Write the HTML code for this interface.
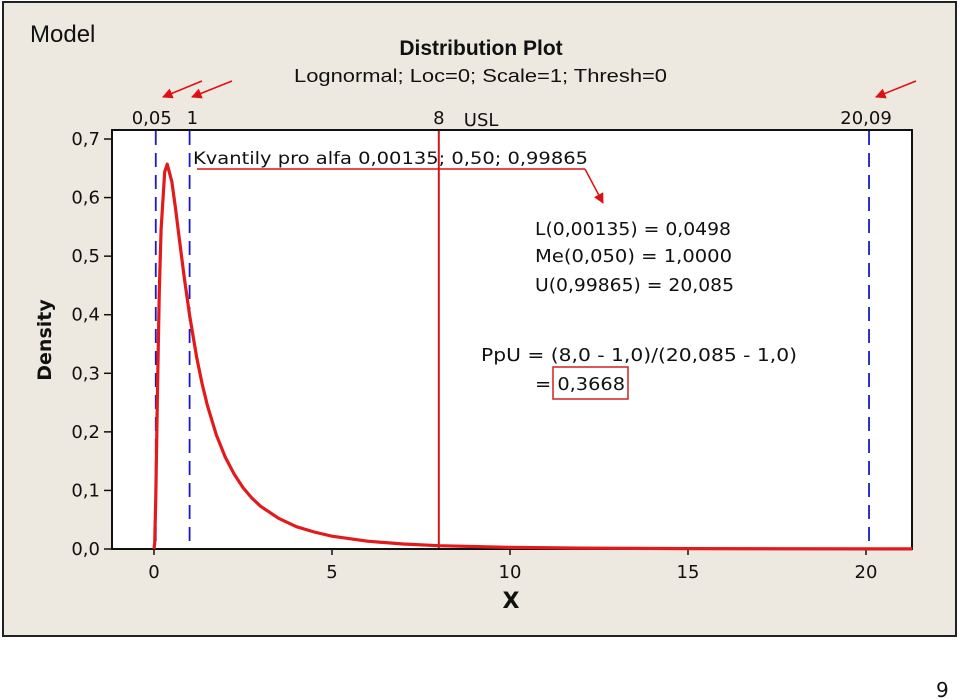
<!DOCTYPE html>
<html><head><meta charset="utf-8"><style>
html,body{margin:0;padding:0;background:#fff;}
svg{display:block;font-family:"DejaVu Sans","Liberation Sans",sans-serif;}
</style></head><body>
<svg id="chart" width="960" height="699" viewBox="0 0 960 699" xmlns="http://www.w3.org/2000/svg">
<defs><marker id="ah" viewBox="0 0 10 10" refX="9" refY="5" markerWidth="7" markerHeight="7" orient="auto"><path d="M0,0 L10,5 L0,10 z" fill="#e01010"/></marker></defs>
<rect x="3" y="2" width="953" height="634" fill="#ede9e0" stroke="#222" stroke-width="2"/>
<rect x="112" y="130" width="800" height="419" fill="#fff" stroke="#111" stroke-width="2"/>
<text x="30" y="42" font-size="24" fill="#111" font-family="Liberation Sans, sans-serif">Model</text>
<text x="481" y="55" font-size="21" font-weight="bold" text-anchor="middle" fill="#111" font-family="Liberation Sans, sans-serif">Distribution Plot</text>
<text x="294" y="82" font-size="18" fill="#111" font-family="Liberation Sans, sans-serif" textLength="373" lengthAdjust="spacingAndGlyphs">Lognormal; Loc=0; Scale=1; Thresh=0</text>
<text transform="translate(51,340) rotate(-90)" font-size="19" font-weight="bold" text-anchor="middle" fill="#111">Density</text>
<text x="511" y="608" font-size="22" font-weight="bold" text-anchor="middle" fill="#111">X</text>
<g id="axes"></g>
<g id="refs"></g>
<g id="series"></g>
<text x="193" y="164" font-size="17" fill="#111" textLength="395" lengthAdjust="spacingAndGlyphs">Kvantily pro alfa 0,00135;  0,50;  0,99865</text>
<line x1="197" y1="169" x2="585" y2="169" stroke="#e01010" stroke-width="1.5"/>
<line x1="585" y1="169" x2="603" y2="203" stroke="#e01010" stroke-width="1.5" marker-end="url(#ah)"/>
<text x="535" y="235" font-size="18" fill="#111" textLength="196" lengthAdjust="spacingAndGlyphs">L(0,00135) = 0,0498</text>
<text x="535" y="262" font-size="18" fill="#111" textLength="197" lengthAdjust="spacingAndGlyphs">Me(0,050)  = 1,0000</text>
<text x="535" y="291" font-size="18" fill="#111" textLength="199" lengthAdjust="spacingAndGlyphs">U(0,99865) = 20,085</text>
<text x="481" y="361" font-size="18" fill="#111" textLength="316" lengthAdjust="spacingAndGlyphs">PpU  =  (8,0 - 1,0)/(20,085 - 1,0)</text>
<text x="535" y="390" font-size="18" fill="#111" textLength="90" lengthAdjust="spacingAndGlyphs">=  0,3668</text>
<rect x="553" y="367" width="75" height="32" fill="none" stroke="#d02020" stroke-width="1.5"/>
<line x1="202" y1="81" x2="163" y2="97" stroke="#e01010" stroke-width="1.5" marker-end="url(#ah)"/>
<line x1="232" y1="81" x2="192" y2="97" stroke="#e01010" stroke-width="1.5" marker-end="url(#ah)"/>
<line x1="916" y1="81" x2="876" y2="97" stroke="#e01010" stroke-width="1.5" marker-end="url(#ah)"/>
<text x="936" y="697" font-size="20" fill="#111">9</text>
</svg>
<script>
const xTicks = [0, 5, 10, 15, 20];
const yTicks = [0, 0.1, 0.2, 0.3, 0.4, 0.5, 0.6, 0.7];
const curveX = [0, 0.02, 0.05, 0.1, 0.15, 0.2, 0.3, 0.37, 0.5, 0.6, 0.7, 0.85, 1, 1.2, 1.35, 1.5, 1.75, 2, 2.25, 2.5, 2.75, 3, 3.5, 4, 4.5, 5, 6, 7, 8, 10, 12, 15, 20, 21.3];
const curveY = [0, 0.0095, 0.0898, 0.2816, 0.44, 0.546, 0.644, 0.657, 0.6276, 0.583, 0.535, 0.463, 0.399, 0.327, 0.282, 0.245, 0.195, 0.157, 0.128, 0.1049, 0.0869, 0.0727, 0.0524, 0.0381, 0.0290, 0.0219, 0.0134, 0.0086, 0.0057, 0.0028, 0.0015, 0.0007, 0.0002, 0.0002];
const refValues = [0.0498, 1, 20.085];
const refLabels = ["0,05", "1", "20,09"];
const uslValue = 8;

const NS = "http://www.w3.org/2000/svg";
const X0 = 154, XS = 35.6, Y0 = 549, YS = 585.7;
const sx = v => X0 + v * XS;
const sy = v => Y0 - v * YS;
function mk(tag, attrs, parent, txt) {
  const e = document.createElementNS(NS, tag);
  for (const k in attrs) e.setAttribute(k, attrs[k]);
  if (txt !== undefined) e.textContent = txt;
  parent.appendChild(e);
  return e;
}
const axes = document.getElementById('axes');
xTicks.forEach(t => {
  const l = mk('line', {x1: sx(t), x2: sx(t), y1: 549, y2: 555, stroke: '#111', 'stroke-width': 1.5}, axes);
  
  
  const tx = mk('text', {x: sx(t), y: 578, 'font-size': 18, 'text-anchor': 'middle', fill: '#111'}, axes, String(t));
  
  
});
yTicks.forEach(t => {
  const l = mk('line', {x1: 104, x2: 112, y1: sy(t), y2: sy(t), stroke: '#111', 'stroke-width': 1.5}, axes);
  
  
  const tx = mk('text', {x: 100, y: sy(t) + 6, 'font-size': 18, 'text-anchor': 'end', fill: '#111'}, axes, t.toFixed(1).replace('.', ','));
  
  
});
const refs = document.getElementById('refs');
refValues.forEach((v, i) => {
  const l = mk('line', {x1: sx(v), x2: sx(v), y1: 131, y2: 548, stroke: '#1a1acc', 'stroke-width': 1.8, 'stroke-dasharray': '14,8'}, refs);
  
  
  const anchor = i === 0 ? 'end' : (i === 2 ? 'middle' : 'start');
  const xx = i === 0 ? sx(v) + 16 : (i === 2 ? sx(v) - 3 : sx(v) - 3);
  const tx = mk('text', {x: xx, y: 124, 'font-size': 18, 'text-anchor': anchor, fill: '#111'}, refs, refLabels[i]);
  
  
});
const usl = mk('line', {x1: sx(uslValue), x2: sx(uslValue), y1: 131, y2: 548, stroke: '#d01818', 'stroke-width': 2}, refs);


const ut = mk('text', {x: sx(uslValue), y: 124, 'font-size': 18, 'text-anchor': 'middle', fill: '#111'}, refs, String(uslValue));


const ul = mk('text', {x: sx(uslValue) + 25, y: 126, 'font-size': 18, fill: '#111'}, refs, 'USL');


const series = document.getElementById('series');
const d = curveX.map((x, i) => (i ? 'L' : 'M') + sx(x).toFixed(1) + ',' + sy(curveY[i]).toFixed(1)).join(' ');
const p = mk('path', {d: d, fill: 'none', stroke: '#e31a1c', 'stroke-width': 3.2, 'stroke-linejoin': 'round'}, series);


</script>
</body></html>
